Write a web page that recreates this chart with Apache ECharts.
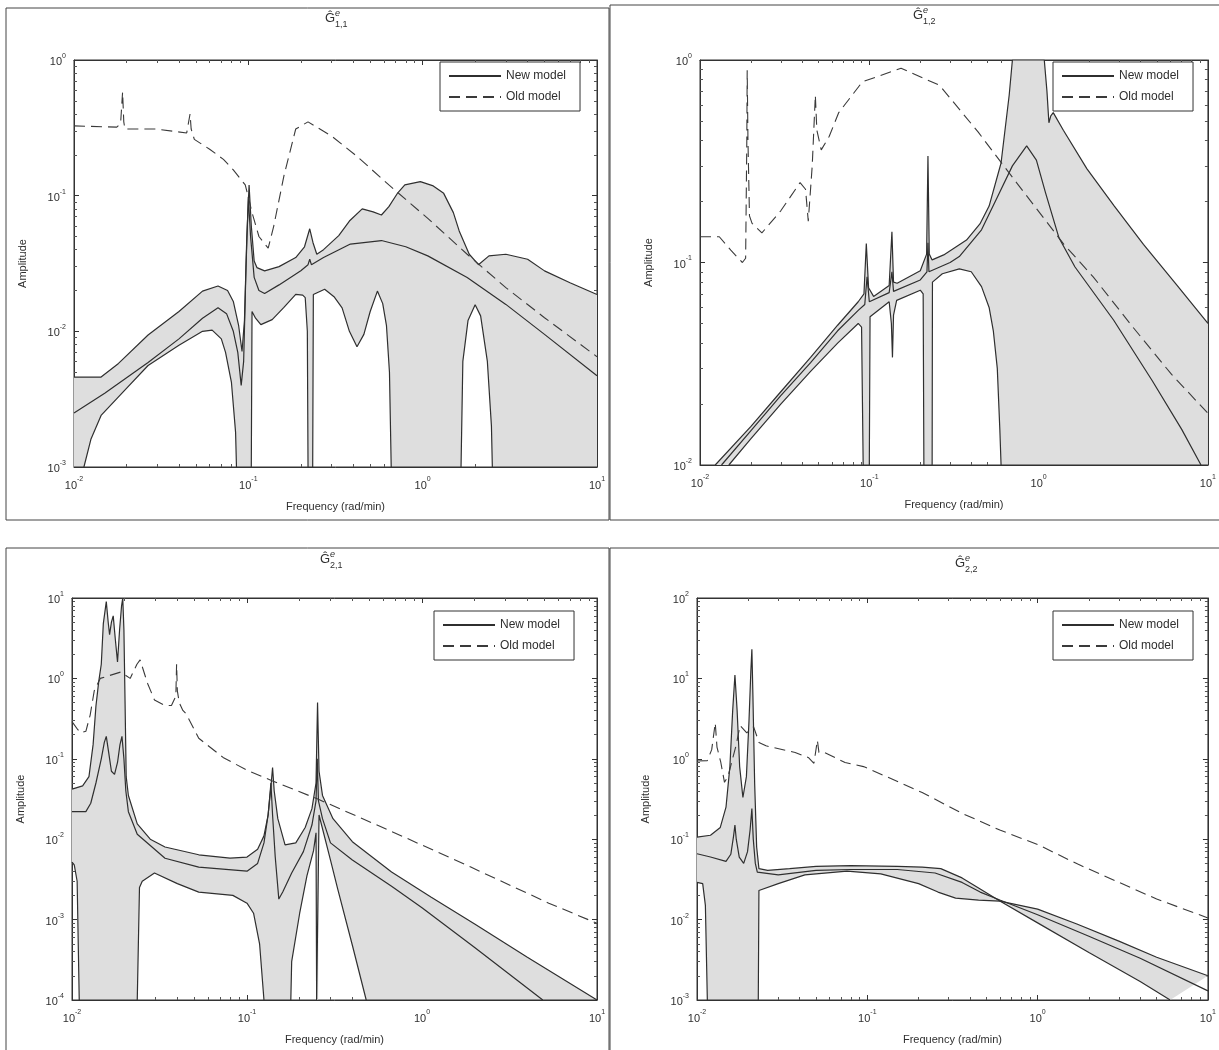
<!DOCTYPE html>
<html>
<head>
<meta charset="utf-8">
<title>Frequency responses</title>
<script src="https://cdn.jsdelivr.net/npm/echarts@6/dist/echarts.min.js"></script>
<style>
  html, body { margin: 0; padding: 0; background: #fff; }
  #main { width: 1219px; height: 1050px; }
</style>
</head>
<body>
<div id="main"></div>
<script>
// ---- G^e_{1,1} : [frequency (rad/min), amplitude] ----
var g11Upper = [[0.01,0.0046],[0.0143,0.0046],[0.018,0.0058],[0.0266,0.0094],[0.04,0.014],[0.0546,0.0198],[0.067,0.0216],[0.076,0.02],[0.082,0.0166],[0.088,0.011],[0.092,0.0071],[0.095,0.012],[0.098,0.05],[0.101,0.12],[0.104,0.06],[0.108,0.033],[0.112,0.0295],[0.124,0.0279],[0.15,0.03],[0.187,0.035],[0.21,0.042],[0.225,0.057],[0.235,0.045],[0.247,0.037],[0.27,0.04],[0.33,0.0508],[0.38,0.065],[0.45,0.08],[0.52,0.076],[0.58,0.072],[0.64,0.083],[0.72,0.105],[0.79,0.12],[0.97,0.127],[1.15,0.118],[1.32,0.104],[1.5,0.075],[1.62,0.055],[1.85,0.037],[2.09,0.031],[2.4,0.036],[3.0,0.037],[4.0,0.034],[5.0,0.0279],[7.0,0.0228],[10,0.0187]];
var g11New = [[0.01,0.0025],[0.015,0.0035],[0.0266,0.0059],[0.04,0.0088],[0.0546,0.0125],[0.067,0.0149],[0.075,0.0135],[0.082,0.01],[0.087,0.007],[0.091,0.004],[0.094,0.006],[0.097,0.03],[0.1,0.098],[0.103,0.05],[0.108,0.025],[0.115,0.02],[0.124,0.019],[0.15,0.022],[0.2,0.028],[0.22,0.031],[0.225,0.034],[0.23,0.031],[0.27,0.035],[0.385,0.044],[0.58,0.0467],[0.8,0.042],[1.07,0.036],[1.8,0.0249],[3.0,0.0158],[5.0,0.0095],[10,0.0047]];
var g11Lower = [[0.01,0.001],[0.0114,0.001],[0.0125,0.0016],[0.0143,0.0024],[0.02,0.0038],[0.0266,0.0056],[0.04,0.0079],[0.0546,0.01],[0.062,0.0102],[0.07,0.0088],[0.074,0.007],[0.08,0.0042],[0.0845,0.0018],[0.0855,0.001],[0.104,0.001],[0.105,0.014],[0.11,0.0125],[0.118,0.0112],[0.137,0.0122],[0.16,0.015],[0.187,0.0187],[0.205,0.0185],[0.212,0.0177],[0.218,0.01],[0.22,0.001],[0.234,0.001],[0.236,0.0187],[0.274,0.0204],[0.31,0.018],[0.345,0.0149],[0.38,0.01],[0.42,0.0077],[0.46,0.0095],[0.5,0.014],[0.55,0.0198],[0.59,0.016],[0.62,0.011],[0.645,0.005],[0.66,0.001],[1.66,0.001],[1.7,0.006],[1.82,0.012],[2.0,0.0157],[2.15,0.013],[2.35,0.006],[2.48,0.002],[2.51,0.001],[10,0.001]];
var g11Old = [[0.01,0.327],[0.0176,0.32],[0.0185,0.34],[0.019,0.58],[0.0193,0.35],[0.0196,0.31],[0.0294,0.31],[0.0443,0.29],[0.0463,0.4],[0.047,0.31],[0.049,0.26],[0.06,0.22],[0.072,0.185],[0.082,0.155],[0.096,0.12],[0.1,0.098],[0.105,0.075],[0.115,0.05],[0.13,0.041],[0.14,0.06],[0.16,0.14],[0.187,0.31],[0.22,0.35],[0.3,0.275],[0.42,0.195],[0.64,0.12],[1.07,0.068],[1.8,0.037],[3.0,0.021],[5.0,0.0126],[10,0.0065]];

// ---- G^e_{1,2} ----
var g12Upper = [[0.0123,0.01],[0.02,0.0155],[0.03,0.023],[0.045,0.034],[0.065,0.049],[0.086,0.064],[0.093,0.07],[0.096,0.124],[0.099,0.075],[0.106,0.068],[0.131,0.077],[0.136,0.142],[0.139,0.08],[0.146,0.079],[0.2,0.091],[0.218,0.11],[0.222,0.336],[0.226,0.11],[0.235,0.103],[0.275,0.109],[0.375,0.129],[0.45,0.155],[0.51,0.19],[0.6,0.31],[0.67,0.67],[0.7,1.0],[1.08,1.0],[1.12,0.7],[1.15,0.49],[1.18,0.53],[1.22,0.55],[1.4,0.45],[1.93,0.29],[2.8,0.19],[4.16,0.123],[6.5,0.078],[10,0.05]];
var g12New = [[0.0134,0.01],[0.02,0.0148],[0.03,0.022],[0.045,0.032],[0.065,0.046],[0.086,0.058],[0.094,0.062],[0.097,0.085],[0.1,0.064],[0.131,0.071],[0.136,0.09],[0.139,0.072],[0.2,0.082],[0.219,0.09],[0.222,0.125],[0.225,0.09],[0.3,0.1],[0.34,0.107],[0.46,0.145],[0.57,0.21],[0.7,0.3],[0.85,0.377],[0.97,0.32],[1.1,0.22],[1.32,0.132],[1.64,0.095],[2.77,0.052],[4.7,0.026],[7,0.015],[9.1,0.01]];
var g12Lower = [[0.0148,0.01],[0.02,0.0135],[0.03,0.02],[0.045,0.029],[0.065,0.04],[0.086,0.05],[0.09,0.048],[0.092,0.01],[0.1,0.01],[0.101,0.054],[0.131,0.064],[0.135,0.05],[0.137,0.034],[0.139,0.055],[0.145,0.065],[0.2,0.073],[0.208,0.07],[0.21,0.01],[0.235,0.01],[0.236,0.08],[0.27,0.088],[0.34,0.093],[0.4,0.09],[0.46,0.076],[0.51,0.06],[0.54,0.046],[0.57,0.03],[0.59,0.015],[0.6,0.01],[10,0.01]];
var g12Old = [[0.01,0.134],[0.013,0.134],[0.0152,0.115],[0.0178,0.1],[0.0186,0.105],[0.0189,0.4],[0.019,0.89],[0.0192,0.4],[0.0196,0.17],[0.0203,0.156],[0.0232,0.14],[0.03,0.18],[0.039,0.248],[0.042,0.23],[0.0436,0.16],[0.046,0.3],[0.048,0.67],[0.049,0.45],[0.052,0.36],[0.058,0.42],[0.066,0.55],[0.091,0.78],[0.154,0.91],[0.26,0.75],[0.44,0.44],[0.74,0.248],[1.41,0.123],[2.1,0.085],[3.6,0.048],[6.1,0.028],[10,0.018]];

// ---- G^e_{2,1} ----
var g21Upper = [[0.01,0.042],[0.0115,0.046],[0.0125,0.06],[0.0132,0.15],[0.0137,0.45],[0.0142,0.9],[0.0147,1.5],[0.0151,4.8],[0.0157,9],[0.0161,5],[0.0164,3.5],[0.0168,5],[0.0172,6],[0.0177,3],[0.0182,1.6],[0.0187,4],[0.0192,8],[0.0195,10],[0.0198,4],[0.0201,0.5],[0.0204,0.06],[0.021,0.035],[0.0236,0.0155],[0.028,0.01],[0.034,0.008],[0.053,0.0064],[0.08,0.0058],[0.1,0.006],[0.115,0.0075],[0.125,0.011],[0.132,0.02],[0.137,0.045],[0.14,0.078],[0.143,0.04],[0.15,0.018],[0.165,0.0085],[0.19,0.009],[0.215,0.014],[0.235,0.024],[0.248,0.05],[0.253,0.5],[0.258,0.07],[0.27,0.035],[0.31,0.018],[0.4,0.0093],[0.67,0.0039],[1.13,0.0019],[2.0,0.00088],[4.0,0.00034],[10,0.0001]];
var g21New = [[0.01,0.022],[0.012,0.022],[0.0128,0.028],[0.0137,0.05],[0.0147,0.1],[0.0153,0.16],[0.0157,0.19],[0.0162,0.12],[0.0168,0.07],[0.0175,0.064],[0.0182,0.09],[0.0188,0.15],[0.0193,0.19],[0.0198,0.1],[0.0203,0.04],[0.021,0.022],[0.0236,0.0115],[0.034,0.0058],[0.053,0.0045],[0.1,0.004],[0.115,0.005],[0.125,0.009],[0.132,0.02],[0.137,0.05],[0.14,0.02],[0.145,0.006],[0.152,0.0018],[0.16,0.0022],[0.18,0.0038],[0.21,0.007],[0.235,0.015],[0.248,0.03],[0.252,0.1],[0.256,0.03],[0.27,0.018],[0.3,0.009],[0.4,0.0055],[0.67,0.0026],[1.0,0.0014],[2.0,0.00045],[4.9,0.0001]];
var g21Lower = [[0.01,0.0052],[0.0103,0.0048],[0.0107,0.003],[0.011,0.0001],[0.0236,0.0001],[0.0243,0.0025],[0.0252,0.003],[0.0296,0.0038],[0.04,0.0028],[0.053,0.0022],[0.083,0.002],[0.1,0.0016],[0.109,0.0012],[0.118,0.0005],[0.125,0.0001],[0.178,0.0001],[0.18,0.0003],[0.2,0.0012],[0.22,0.0035],[0.24,0.0072],[0.248,0.012],[0.25,0.0001],[0.255,0.0001],[0.258,0.02],[0.3,0.0055],[0.33,0.0024],[0.4,0.00048],[0.48,0.0001],[10,0.0001]];
var g21Old = [[0.01,0.29],[0.0108,0.23],[0.0112,0.21],[0.012,0.22],[0.0127,0.35],[0.0134,0.7],[0.0145,1.0],[0.019,1.2],[0.0215,1.0],[0.0235,1.5],[0.0245,1.7],[0.027,0.87],[0.0296,0.54],[0.034,0.46],[0.037,0.46],[0.0392,0.6],[0.0396,1.5],[0.04,0.7],[0.041,0.5],[0.043,0.4],[0.045,0.36],[0.053,0.18],[0.073,0.104],[0.1,0.072],[0.14,0.053],[0.25,0.032],[0.67,0.0125],[1.9,0.0045],[5.3,0.0016],[10,0.0009]];

// ---- G^e_{2,2} ----
var g22Upper = [[0.01,0.106],[0.012,0.112],[0.0137,0.14],[0.0148,0.25],[0.0156,0.8],[0.0162,4],[0.0167,11],[0.0172,4],[0.0178,0.8],[0.0186,0.33],[0.0195,0.6],[0.0202,3],[0.0207,12],[0.021,23],[0.0213,6],[0.0218,0.5],[0.0224,0.08],[0.0231,0.043],[0.026,0.041],[0.035,0.043],[0.05,0.046],[0.08,0.047],[0.15,0.046],[0.21,0.045],[0.27,0.043],[0.36,0.033],[0.46,0.024],[0.6,0.017],[1.0,0.0091],[2.0,0.0039],[4.0,0.0017],[6.0,0.001]];
var g22New = [[0.01,0.066],[0.012,0.06],[0.0148,0.053],[0.0158,0.065],[0.0164,0.11],[0.0167,0.15],[0.017,0.1],[0.0177,0.06],[0.0188,0.05],[0.0198,0.07],[0.0205,0.13],[0.021,0.24],[0.0214,0.1],[0.022,0.05],[0.0226,0.039],[0.03,0.036],[0.05,0.041],[0.08,0.042],[0.15,0.042],[0.25,0.038],[0.36,0.029],[0.46,0.022],[0.6,0.0175],[1.0,0.0115],[2.0,0.0062],[4.0,0.0033],[10,0.0013]];
var g22Lower = [[0.01,0.029],[0.0108,0.028],[0.0112,0.015],[0.0115,0.001],[0.0229,0.001],[0.0231,0.023],[0.03,0.028],[0.043,0.036],[0.076,0.04],[0.12,0.037],[0.2,0.028],[0.26,0.022],[0.33,0.0185],[0.45,0.0175],[0.6,0.017],[1.0,0.0135],[1.7,0.0088],[3.0,0.0054],[5.0,0.0034],[10,0.002]];
var g22Old = [[0.01,0.94],[0.0115,0.95],[0.0122,1.3],[0.0128,2.8],[0.0131,1.4],[0.0138,0.9],[0.0145,0.51],[0.0152,0.6],[0.017,1.5],[0.0179,2.6],[0.0196,2.1],[0.0215,2.5],[0.0231,1.6],[0.0254,1.45],[0.0377,1.2],[0.0453,1.03],[0.0486,0.88],[0.0509,1.7],[0.052,1.2],[0.056,1.2],[0.074,0.9],[0.095,0.8],[0.125,0.62],[0.21,0.38],[0.36,0.21],[0.6,0.13],[1.01,0.085],[1.72,0.049],[2.9,0.03],[5,0.018],[10,0.0105]];

var FONT = 'Liberation Sans, Arial, Helvetica, sans-serif';
var INK = '#2f2f2f';
var BAND = '#dedede';

// 面板位置、坐标范围
var panels = [
    { sub: '1,1', grid: { left: 74, top: 60, width: 523, height: 407 }, yMin: 1e-3, yMax: 1,
      upper: g11Upper, nominal: g11New, lower: g11Lower, old: g11Old,
      legend: { left: 440, top: 62 }, title: [325, 12], frame: [6, 8, 603, 512] },
    { sub: '1,2', grid: { left: 700, top: 60, width: 513, height: 405 }, yMin: 1e-2, yMax: 1,
      upper: g12Upper, nominal: g12New, lower: g12Lower, old: g12Old,
      legend: { left: 1053, top: 62 }, title: [913, 9], frame: [610, 5, 620, 515] },
    { sub: '2,1', grid: { left: 72, top: 598, width: 525, height: 402 }, yMin: 1e-4, yMax: 10,
      upper: g21Upper, nominal: g21New, lower: g21Lower, old: g21Old,
      legend: { left: 434, top: 611 }, title: [320, 553], frame: [6, 548, 603, 510] },
    { sub: '2,2', grid: { left: 697, top: 598, width: 515, height: 402 }, yMin: 1e-3, yMax: 100,
      upper: g22Upper, nominal: g22New, lower: g22Lower, old: g22Old,
      legend: { left: 1053, top: 611 }, title: [955, 557], frame: [610, 548, 620, 510] }
];

function powLabel(v) {
    var e = Math.round(Math.log10(v));
    return '{b|10}{e|' + e + '}';
}
var powRich = {
    b: { fontSize: 11, fontFamily: FONT, color: INK, lineHeight: 15, verticalAlign: 'bottom' },
    e: { fontSize: 7, fontFamily: FONT, color: INK, verticalAlign: 'top', padding: [0, 0, 3, 0] }
};

var option = {
    animation: false,
    backgroundColor: '#fff',
    grid: [], xAxis: [], yAxis: [], legend: [], series: [], graphic: []
};

function tickAxis(extra) {
    return Object.assign({
        axisLine: { lineStyle: { color: '#333' } },
        axisTick: { inside: true, length: 5, lineStyle: { color: '#333' } },
        minorTick: { show: true, splitNumber: 9, length: 3, lineStyle: { color: '#555' } },
        splitLine: { show: false }
    }, extra);
}

panels.forEach(function (p, i) {
    option.grid.push(Object.assign({ show: true, borderColor: '#333', borderWidth: 1, backgroundColor: 'transparent' }, p.grid));
    // 下方 / 左侧 主坐标轴, 上方 / 右侧 只画刻度
    option.xAxis.push(tickAxis({
        type: 'log', gridIndex: i, min: 0.01, max: 10, position: 'bottom',
        name: 'Frequency (rad/min)', nameLocation: 'middle', nameGap: 34,
        nameTextStyle: { fontFamily: FONT, fontSize: 11, color: INK },
        axisLabel: { formatter: powLabel, rich: powRich, margin: 9 }
    }));
    option.xAxis.push(tickAxis({
        type: 'log', gridIndex: i, min: 0.01, max: 10, position: 'top',
        axisLabel: { show: false }
    }));
    option.yAxis.push(tickAxis({
        type: 'log', gridIndex: i, min: p.yMin, max: p.yMax, position: 'left',
        name: 'Amplitude', nameLocation: 'middle', nameGap: 46, nameRotate: 90,
        nameTextStyle: { fontFamily: FONT, fontSize: 11, color: INK },
        axisLabel: { formatter: powLabel, rich: powRich, margin: 8 }
    }));
    option.yAxis.push(tickAxis({
        type: 'log', gridIndex: i, min: p.yMin, max: p.yMax, position: 'right',
        axisLabel: { show: false }
    }));

    var xi = i * 2, yi = i * 2;

    // 上下界之间的灰色区域
    (function (up, lo) {
        option.series.push({
            type: 'custom', name: 'band', xAxisIndex: xi, yAxisIndex: yi, silent: true, z: 1,
            data: [[0.1, 0.1]],
            renderItem: function (params, api) {
                var pts = up.map(function (d) { return api.coord(d); })
                    .concat(lo.slice().reverse().map(function (d) { return api.coord(d); }));
                var cs = params.coordSys;
                return {
                    type: 'polygon', shape: { points: pts },
                    style: { fill: BAND, stroke: null },
                    clipPath: { type: 'rect', shape: { x: cs.x, y: cs.y, width: cs.width, height: cs.height } }
                };
            }
        });
    })(p.upper, p.lower);

    var solid = { color: INK, width: 1.2 };
    [['upper bound', p.upper], ['lower bound', p.lower], ['New model', p.nominal]].forEach(function (s) {
        option.series.push({
            type: 'line', name: s[0], xAxisIndex: xi, yAxisIndex: yi, data: s[1],
            symbol: 'none', showSymbol: false, z: 3, color: INK,
            lineStyle: solid
        });
    });
    option.series.push({
        type: 'line', name: 'Old model', xAxisIndex: xi, yAxisIndex: yi, data: p.old,
        symbol: 'none', showSymbol: false, z: 3, color: '#3a3a3a',
        lineStyle: { color: '#3a3a3a', width: 1.1, type: [11, 6] }
    });

    option.legend.push({
        data: ['New model', 'Old model'], orient: 'vertical',
        left: p.legend.left, top: p.legend.top,
        itemWidth: 52, itemHeight: 12, itemGap: 9, padding: [8, 14, 8, 8],
        itemStyle: { opacity: 0 },
        borderColor: '#333', borderWidth: 1, backgroundColor: '#fff',
        selectedMode: false, z: 10,
        textStyle: { fontFamily: FONT, fontSize: 12, color: INK }
    });

    // 标题 Ĝ^e_{i,j}
    option.graphic.push({
        type: 'group', x: p.title[0], y: p.title[1], children: [
            { type: 'text', x: 0, y: 0, style: { text: 'Ĝ', font: '13px ' + FONT, fill: INK } },
            { type: 'text', x: 10, y: -3, style: { text: 'e', font: 'italic 9px ' + FONT, fill: INK } },
            { type: 'text', x: 10, y: 8, style: { text: p.sub, font: '9px ' + FONT, fill: INK } }
        ]
    });
    option.graphic.push({
        type: 'rect', silent: true, z: -1,
        shape: { x: p.frame[0], y: p.frame[1], width: p.frame[2], height: p.frame[3] },
        style: { fill: 'none', stroke: '#444', lineWidth: 1 }
    });
});

var myChart = echarts.init(document.getElementById('main'));
myChart.setOption(option);
</script>
</body>
</html>
